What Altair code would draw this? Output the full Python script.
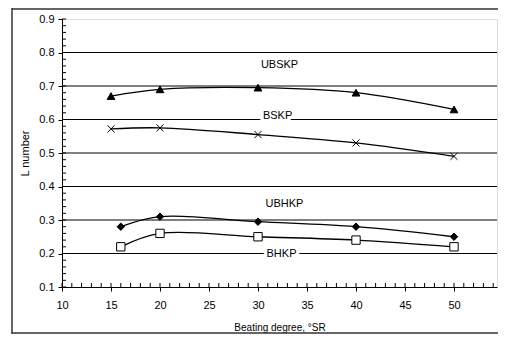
import altair as alt
import pandas as pd

x_ubskp = [15, 20, 30, 40, 50]
y_ubskp = [0.670, 0.690, 0.695, 0.680, 0.630]
x_bskp = [15, 20, 30, 40, 50]
y_bskp = [0.572, 0.575, 0.555, 0.530, 0.490]
x_ubhkp = [16, 20, 30, 40, 50]
y_ubhkp = [0.280, 0.310, 0.295, 0.280, 0.250]
x_bhkp = [16, 20, 30, 40, 50]
y_bhkp = [0.220, 0.260, 0.250, 0.240, 0.220]

label_names = ["UBSKP", "BSKP", "UBHKP", "BHKP"]
label_x = [32.2, 32.0, 32.7, 32.4]
label_y = [0.763, 0.610, 0.348, 0.199]

x_ticks = [10, 15, 20, 25, 30, 35, 40, 45, 50]
x_minor = list(range(10, 55))
y_ticks = [0.1, 0.2, 0.3, 0.4, 0.5, 0.6, 0.7, 0.8, 0.9]
y_minor = [round(0.1 + 0.02 * i, 2) for i in range(41)]
grid_y = [0.2, 0.3, 0.4, 0.5, 0.6, 0.7, 0.8]

W, H = 435, 268
PL, PT, PB = 54, 11, 47
FONT = "Liberation Sans"
XMAX = 10 + W / 9.8

xs = alt.Scale(domain=[10, XMAX], nice=False, zero=False)
ys = alt.Scale(domain=[0.1, 0.9], nice=False, zero=False)

YA = alt.Axis(values=y_ticks, format=".1f", title="L number", tickSize=4,
              tickColor="#000", domainColor="#000", labelFontSize=11,
              labelPadding=4, labelColor="#000", titleFontSize=11,
              titleFontWeight="normal", titlePadding=8, titleColor="#000",
              labelFont=FONT, titleFont=FONT, grid=False,
              labelOverlap=False, labelFlush=False)
XA = alt.Axis(values=x_ticks, format="d", title="Beating degree, °SR", tickSize=4,
              tickColor="#000", domainColor="#000", labelFontSize=11,
              labelPadding=8, labelColor="#000", titleFontSize=10,
              titleFontWeight="normal", titlePadding=12, titleColor="#000",
              labelFont=FONT, titleFont=FONT, grid=False,
              labelOverlap=False, labelFlush=False)

X = lambda: alt.X("x:Q", scale=xs, axis=XA)
Y = lambda: alt.Y("y:Q", scale=ys, axis=YA)

rows = []
for name, xx, yy in [("UBSKP", x_ubskp, y_ubskp), ("BSKP", x_bskp, y_bskp),
                     ("UBHKP", x_ubhkp, y_ubhkp), ("BHKP", x_bhkp, y_bhkp)]:
    for a, b in zip(xx, yy):
        rows.append({"series": name, "x": a, "y": b})
df = pd.DataFrame(rows)

grid = alt.Chart(pd.DataFrame({"y": grid_y})).mark_rule(color="#000000", strokeWidth=1).encode(
    y=Y())

xminor = alt.Chart(pd.DataFrame({"x": x_minor})).mark_tick(
    color="#000", orient="vertical", size=4, thickness=1, opacity=1).encode(
    x=X(), y=alt.value(H - 2))

yminor = alt.Chart(pd.DataFrame({"y": y_minor})).mark_tick(
    color="#000", orient="horizontal", size=4, thickness=1, opacity=1).encode(
    y=Y(), x=alt.value(2))

frame_left = alt.Chart(pd.DataFrame({"k": [0]})).mark_rule(color="#333", strokeWidth=1.5).encode(
    x=alt.value(-PL + 4), y=alt.value(-PT), y2=alt.value(H + PB))
frame_top = alt.Chart(pd.DataFrame({"k": [0]})).mark_rule(color="#333", strokeWidth=1.5).encode(
    x=alt.value(-PL + 4), x2=alt.value(W + 5), y=alt.value(-PT + 1))
frame_bottom = alt.Chart(pd.DataFrame({"k": [0]})).mark_rule(color="#333", strokeWidth=1.5).encode(
    x=alt.value(-PL + 4), x2=alt.value(W + 5), y=alt.value(H + PB - 1))

lines = alt.Chart(df).mark_line(interpolate="catmull-rom", color="#000", strokeWidth=1.3).encode(
    x=X(), y=Y(), detail="series:N")

def pts(name, shape, filled, size, sw=1):
    d = df[df.series == name]
    return alt.Chart(d).mark_point(shape=shape, filled=filled, size=size,
                                   color="#000", fill="#000" if filled else "#fff",
                                   stroke="#000", strokeWidth=sw, opacity=1).encode(
        x=X(), y=Y())

p1 = pts("UBSKP", "triangle-up", True, 60)
p2 = alt.Chart(df[df.series == "BSKP"]).mark_point(
    shape="M-1,-1L1,1M-1,1L1,-1", filled=False, size=50, stroke="#000", strokeWidth=1,
    opacity=1).encode(x=X(), y=Y())
p3 = pts("UBHKP", "diamond", True, 55)
p4 = pts("BHKP", "square", False, 70)

lab = pd.DataFrame({"name": label_names, "x": label_x, "y": label_y})
halo = alt.Chart(lab).mark_text(font=FONT, fontSize=11, color="#fff", stroke="#fff",
                                strokeWidth=7).encode(x=X(), y=Y(), text="name:N")
txt = alt.Chart(lab).mark_text(font=FONT, fontSize=11, color="#000").encode(
    x=X(), y=Y(), text="name:N")

chart = alt.layer(frame_left, frame_top, frame_bottom, grid, yminor, xminor, lines, halo, txt,
                  p1, p2, p3, p4).properties(
    width=W, height=H,
    autosize=alt.AutoSizeParams(type="none"),
    padding={"left": PL, "top": PT, "right": 1, "bottom": PB},
).configure_view(stroke="#888888", strokeWidth=1, clip=False).configure(background="#ffffff")

chart.save("out.html", embed_options={"renderer": "svg", "actions": False})
